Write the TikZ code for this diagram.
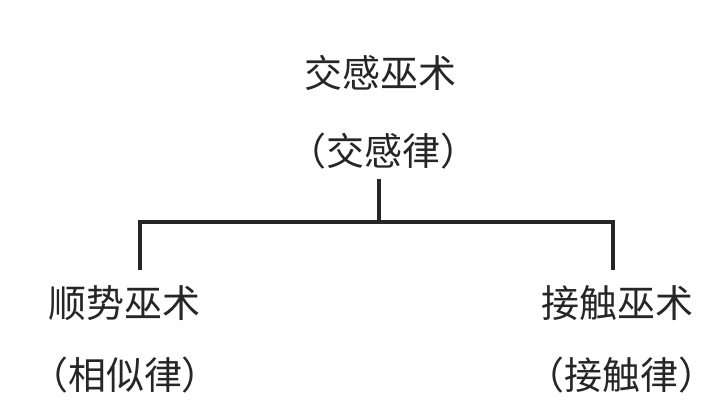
\documentclass[tikz,border=0pt]{standalone}
\usepackage{fontspec}
\newfontfamily\cjk{Noto Sans CJK SC}
\begin{document}
\begin{tikzpicture}[x=1pt,y=1pt,
  lbl/.style={font=\cjk\fontsize{38}{41}\selectfont, inner sep=0pt, text=black!85},
  conn/.style={line width=3.2pt, draw=black!85}]
\useasboundingbox[fill=white] (0,0) rectangle (720,420);
\node[lbl] (t1) at (380,347) {交感巫术};
\node[lbl] (t2) at (383,269) {（交感律）};
\node[lbl] (l1) at (124,117) {顺势巫术};
\node[lbl] (l2) at (125,45) {（相似律）};
\node[lbl] (r1) at (617.5,117) {接触巫术};
\node[lbl] (r2) at (621,45) {（接触律）};
\coordinate (stem) at (379,241);
\coordinate (j) at (379,198);
\coordinate (lt) at (140,150);
\coordinate (rt) at (613,150);
\draw[conn] (stem) -- (j);
\draw[conn, line join=miter] (lt) -- (lt |- j) -- (rt |- j) -- (rt);
\end{tikzpicture}
\end{document}
